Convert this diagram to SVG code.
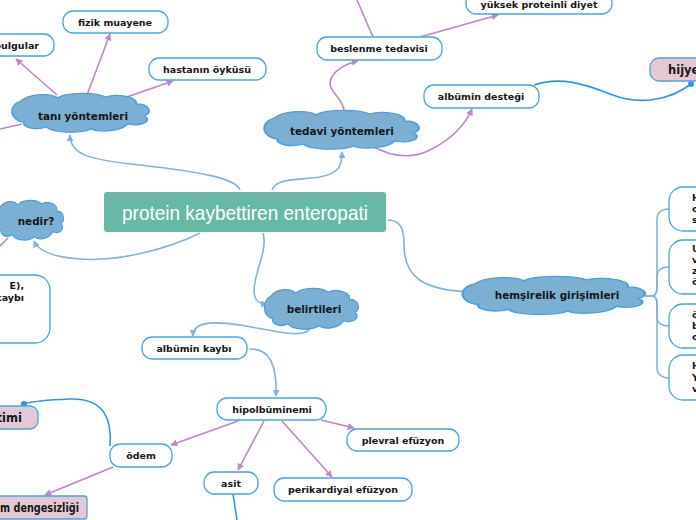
<svg xmlns="http://www.w3.org/2000/svg" xmlns:xlink="http://www.w3.org/1999/xlink" width="696" height="520" viewBox="0 0 696 520">
<defs>
<style>
.bg{fill:#ffffff}
.box{fill:#ffffff;stroke:#45a5e3;stroke-width:1.3}
.pink{fill:#e4c9d5;stroke:#45a5e3;stroke-width:1.3}
.cloud{fill:#7bafd4;stroke:#4aa0dd;stroke-width:1.3}
.t{font-family:"DejaVu Sans",Verdana,sans-serif;font-weight:bold;font-size:9.5px;fill:#161616;text-anchor:middle}
.tl{font-family:"DejaVu Sans",Verdana,sans-serif;font-weight:bold;font-size:9.5px;fill:#161616}
.tc{font-family:"DejaVu Sans",Verdana,sans-serif;font-weight:bold;font-size:10.4px;fill:#161616;text-anchor:middle}
.tp{font-family:"DejaVu Sans",Verdana,sans-serif;font-weight:bold;font-size:11.5px;fill:#161616}
.main{font-family:"Liberation Sans",Arial,sans-serif;font-size:21px;fill:#ffffff;text-anchor:middle}
.lb{fill:none;stroke:#82b3da;stroke-width:1.6}
.pu{fill:none;stroke:#c183c9;stroke-width:1.6}
.db{fill:none;stroke:#2a98e2;stroke-width:1.6}
</style>
<marker id="aB" viewBox="0 0 10 10" refX="9" refY="5" markerWidth="7" markerHeight="7" orient="auto" markerUnits="userSpaceOnUse"><path d="M0,0 L10,5 L0,10 Z" fill="#82b3da"/></marker>
<marker id="aP" viewBox="0 0 10 10" refX="9" refY="5" markerWidth="7" markerHeight="7" orient="auto" markerUnits="userSpaceOnUse"><path d="M0,0 L10,5 L0,10 Z" fill="#c183c9"/></marker>
<marker id="dot" viewBox="0 0 10 10" refX="5" refY="5" markerWidth="6" markerHeight="6" markerUnits="userSpaceOnUse"><circle cx="5" cy="5" r="5" fill="#2a98e2"/></marker>
<path id="cl" d="M8 8 C14 0 30 0 34 5 C40 -1 62 -1 68 4 C76 0 92 4 90 11 C100 11 102 20 96 23 C102 28 94 34 84 31 C80 38 64 40 58 36 C50 41 30 40 26 34 C18 38 8 34 10 29 C0 28 -2 12 8 8 Z"/>
</defs>
<rect class="bg" x="0" y="0" width="696" height="520"/>

<g id="connectors">
  <path class="lb" d="M240 190 C236 178 200 172 140 165 C90 160 70 155 70 135" marker-end="url(#aB)"/>
  <path class="lb" d="M272 190 C275 178 300 180 320 177 C340 173 342 165 342 152" marker-end="url(#aB)"/>
  <path class="lb" d="M200 233 C170 248 120 262 80 259 C50 257 38 250 34 241" marker-end="url(#aB)"/>
  <path class="lb" d="M263 233 C268 250 255 270 254 290 C254 300 258 304 267 304" marker-end="url(#aB)"/>
  <path class="lb" d="M388 220 C400 220 404 228 404 245 C404 275 420 292 478 292" marker-end="url(#aB)"/>
  <path class="lb" d="M310 328 C306 340 270 330 240 325 C205 320 193 324 193 336" marker-end="url(#aB)"/>
  <path class="lb" d="M249 349 C270 348 277 365 276 396" marker-end="url(#aB)"/>
  <path class="lb" d="M645 296 H651 C657 296 657 292 657 285 V220 C657 212 662 209 669 209"/>
  <path class="lb" d="M645 296 H651 C657 296 657 290 657 283 V276 C657 270 662 267 669 267"/>
  <path class="lb" d="M645 296 H651 C657 296 657 300 657 307 V317 C657 323 662 326 669 326"/>
  <path class="lb" d="M645 296 H651 C657 296 657 300 657 307 V368 C657 374 662 378 669 378"/>
  <path class="pu" d="M238 421 L171 445" marker-end="url(#aP)"/>
  <path class="pu" d="M264 421 L238 470" marker-end="url(#aP)"/>
  <path class="pu" d="M282 421 L332 477" marker-end="url(#aP)"/>
  <path class="pu" d="M321 420 L354 428" marker-end="url(#aP)"/>
  <path class="pu" d="M113 467 L45 495" marker-end="url(#aP)"/>
  <path class="db" d="M110 446 C112 420 105 398 70 399 C45 400 30 402 24 404" marker-end="url(#dot)"/>
  <path class="db" d="M233 494 L237 520"/>
  <path class="db" d="M534 85 C560 76 585 84 610 94 C640 106 670 100 691 84" marker-end="url(#dot)"/>
  <path class="pu" d="M344 111 C344 100 330 92 330 84 C330 72 345 64 358 61" marker-end="url(#aP)"/>
  <path class="pu" d="M372 146 C390 156 410 160 430 150 C450 140 465 125 472 109" marker-end="url(#aP)"/>
  <path class="pu" d="M420 37 L498 15" marker-end="url(#aP)"/>
  <path class="pu" d="M373 37 L357 0"/>
  <path class="pu" d="M57 95 L16 59" marker-end="url(#aP)"/>
  <path class="pu" d="M87 95 L110 34" marker-end="url(#aP)"/>
  <path class="pu" d="M124 98 L173 81" marker-end="url(#aP)"/>
  <path class="pu" d="M22 124 L0 129"/>
  <path class="pu" d="M8 238 L0 246"/>
</g>

<g id="central">
  <rect x="104" y="192" width="282" height="40" rx="3" fill="#68b8a6"/>
  <text class="main" x="245" y="220" textLength="246" lengthAdjust="spacingAndGlyphs">protein kaybettiren enteropati</text>
</g>

<g id="tani">
  <use href="#cl" class="cloud" transform="translate(10,93) scale(1.4,1.0)" style="vector-effect:non-scaling-stroke"/>
  <text class="tc" x="83" y="120">tanı yöntemleri</text>
</g>
<g id="tedavi">
  <use href="#cl" class="cloud" transform="translate(262,110) scale(1.58,1.0)" style="vector-effect:non-scaling-stroke"/>
  <text class="tc" x="342" y="135">tedavi yöntemleri</text>
</g>
<g id="nedir">
  <use href="#cl" class="cloud" transform="translate(-6,200) scale(0.7,1.02)" style="vector-effect:non-scaling-stroke"/>
  <text class="tc" x="36" y="225">nedir?</text>
</g>
<g id="belirtileri">
  <use href="#cl" class="cloud" transform="translate(263,288) scale(0.96,1.05)" style="vector-effect:non-scaling-stroke"/>
  <text class="tc" x="314" y="313">belirtileri</text>
</g>
<g id="hemsirelik">
  <use href="#cl" class="cloud" transform="translate(460,276) scale(1.86,0.98)" style="vector-effect:non-scaling-stroke"/>
  <text class="tc" x="557" y="299">hemşirelik girişimleri</text>
</g>

<g id="bulgular">
  <rect class="box" x="-20" y="34" width="74" height="22" rx="10"/>
  <text class="tl" x="39" y="49" text-anchor="end">bulgular</text>
</g>
<g id="fizik">
  <rect class="box" x="63" y="11" width="105" height="22" rx="10"/>
  <text class="t" x="115" y="25.5">fizik muayene</text>
</g>
<g id="hastanin">
  <rect class="box" x="149" y="58" width="117" height="22" rx="10"/>
  <text class="t" x="207" y="72.5">hastanın öyküsü</text>
</g>
<g id="beslenme">
  <rect class="box" x="317" y="37" width="125" height="23" rx="10"/>
  <text class="t" x="379" y="52">beslenme tedavisi</text>
</g>
<g id="yuksek">
  <rect class="box" x="466" y="-8" width="146" height="22" rx="10"/>
  <text class="t" x="539" y="8">yüksek proteinli diyet</text>
</g>
<g id="albumindestegi">
  <rect class="box" x="424" y="85" width="115" height="23" rx="10"/>
  <text class="t" x="481" y="100">albümin desteği</text>
</g>
<g id="hijyen">
  <rect class="pink" x="650" y="58" width="70" height="23" rx="9"/>
  <text class="tp" x="668" y="74">hijyen</text>
</g>
<g id="tanim">
  <rect class="box" x="-40" y="275" width="90" height="68" rx="15"/>
  <text class="tl" x="24" y="289" text-anchor="end">E),</text>
  <text class="tl" x="24" y="301" text-anchor="end">kaybı</text>
</g>
<g id="h1">
  <rect class="box" x="669" y="187" width="60" height="44" rx="14"/>
  <text class="tl" x="692" y="201">H</text>
  <text class="tl" x="692" y="212">c</text>
  <text class="tl" x="692" y="223">s</text>
</g>
<g id="h2">
  <rect class="box" x="669" y="240" width="60" height="54" rx="14"/>
  <text class="tl" x="692" y="252">U</text>
  <text class="tl" x="692" y="263">ve</text>
  <text class="tl" x="692" y="274">ze</text>
  <text class="tl" x="692" y="285">ör</text>
</g>
<g id="h3">
  <rect class="box" x="669" y="304" width="60" height="44" rx="14"/>
  <text class="tl" x="692" y="318">ö</text>
  <text class="tl" x="692" y="329">b</text>
  <text class="tl" x="692" y="340">c</text>
</g>
<g id="h4">
  <rect class="box" x="669" y="355" width="60" height="45" rx="14"/>
  <text class="tl" x="692" y="369">H</text>
  <text class="tl" x="692" y="381">Y</text>
  <text class="tl" x="692" y="392">v</text>
</g>
<g id="albuminkaybi">
  <rect class="box" x="142" y="337" width="105" height="22" rx="10"/>
  <text class="t" x="194" y="351.5">albümin kaybı</text>
</g>
<g id="hipolbuminemi">
  <rect class="box" x="217" y="398" width="109" height="22" rx="10"/>
  <text class="t" x="272" y="412.5">hipolbüminemi</text>
</g>
<g id="plevral">
  <rect class="box" x="347" y="429" width="112" height="22" rx="10"/>
  <text class="t" x="403" y="443.5">plevral efüzyon</text>
</g>
<g id="perikardiyal">
  <rect class="box" x="274" y="478" width="138" height="23" rx="10"/>
  <text class="t" x="343" y="493">perikardiyal efüzyon</text>
</g>
<g id="asit">
  <rect class="box" x="204" y="472" width="54" height="22" rx="10"/>
  <text class="t" x="231" y="486.5">asit</text>
</g>
<g id="odem">
  <rect class="box" x="110" y="444" width="62" height="23" rx="10"/>
  <text class="t" x="141" y="459">ödem</text>
</g>
<g id="timi">
  <rect class="pink" x="-30" y="406" width="68" height="23" rx="8"/>
  <text class="tp" x="22" y="422" text-anchor="end">timi</text>
</g>
<g id="dengesizlik">
  <rect class="pink" x="-30" y="496" width="117" height="23" rx="3"/>
  <text class="tp" x="0" y="512" textLength="79" lengthAdjust="spacingAndGlyphs">m dengesizliği</text>
</g>
</svg>
